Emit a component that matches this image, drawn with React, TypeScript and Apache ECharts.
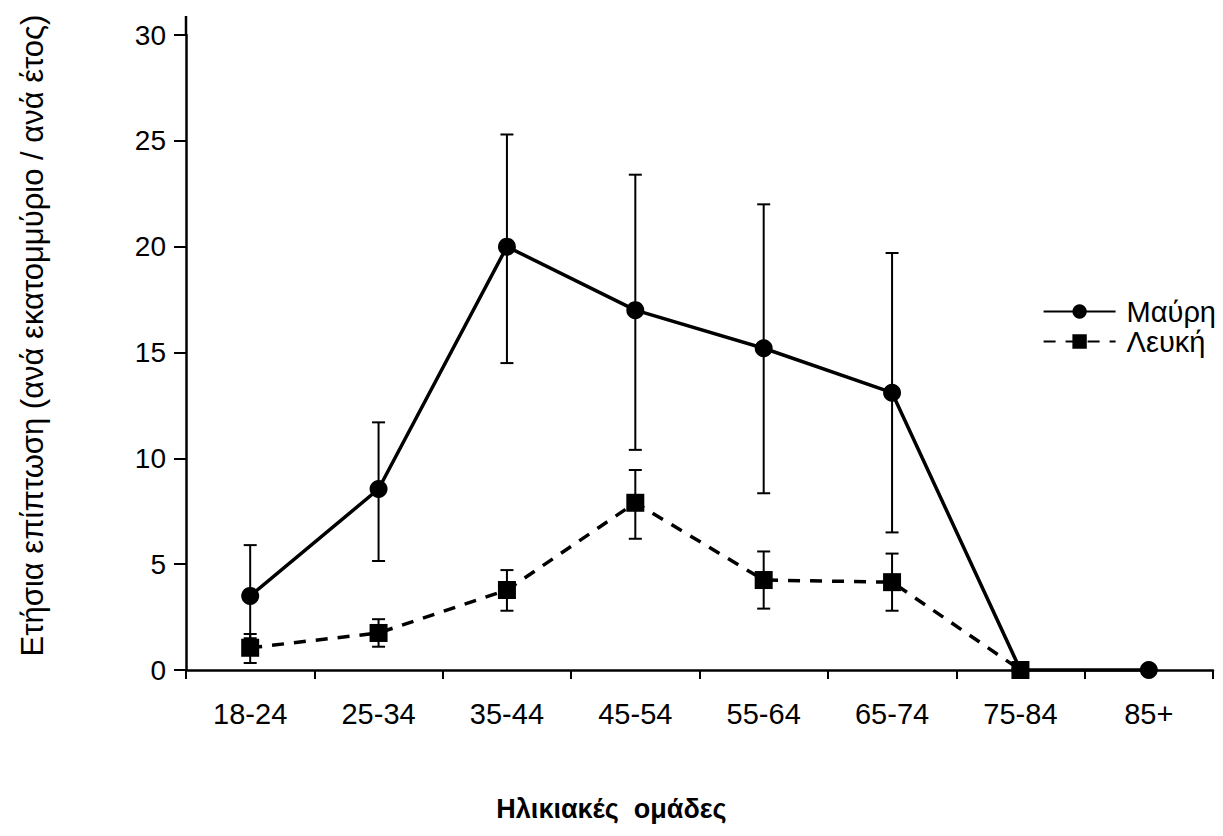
import React, { useEffect, useRef } from "react";
import * as echarts from "echarts";

const categories = ["18-24", "25-34", "35-44", "45-54", "55-64", "65-74", "75-84", "85+"];
const blackValues = [3.5, 8.55, 20.0, 17.0, 15.2, 13.1, 0, 0];
const blackLow = [1.5, 5.15, 14.5, 10.4, 8.35, 6.5, null, null];
const blackHigh = [5.9, 11.7, 25.3, 23.4, 22.0, 19.7, null, null];
const whiteValues = [1.05, 1.75, 3.78, 7.9, 4.25, 4.15, 0, null];
const whiteLow = [0.33, 1.1, 2.8, 6.2, 2.9, 2.8, null, null];
const whiteHigh = [1.7, 2.4, 4.72, 9.45, 5.6, 5.5, null, null];
const yTicks = [0, 5, 10, 15, 20, 25, 30];

const FONT = "'Liberation Sans', Arial, sans-serif";

function errData(low: (number | null)[], high: (number | null)[]) {
  const out: any[] = [];
  low.forEach((l, i) => {
    const h = high[i];
    if (l != null && h != null) out.push([i, l, h]);
  });
  return out;
}

function errRender(params: any, api: any) {
  const x = api.value(0);
  const lo = api.coord([x, api.value(1)]);
  const hi = api.coord([x, api.value(2)]);
  const cap = 6.5;
  const style = { stroke: "#000", lineWidth: 2 };
  return {
    type: "group",
    children: [
      { type: "line", shape: { x1: lo[0], y1: lo[1], x2: hi[0], y2: hi[1] }, style },
      { type: "line", shape: { x1: hi[0] - cap, y1: hi[1], x2: hi[0] + cap, y2: hi[1] }, style },
      { type: "line", shape: { x1: lo[0] - cap, y1: lo[1], x2: lo[0] + cap, y2: lo[1] }, style },
    ],
  };
}

export default function App() {
  const ref = useRef<HTMLDivElement>(null);
  useEffect(() => {
    if (!ref.current) return;
    const chart = echarts.init(ref.current, undefined, { renderer: "svg" });
    chart.setOption({
      animation: false,
      backgroundColor: "#fff",
      textStyle: { fontFamily: FONT, color: "#000" },
      grid: { left: 186, right: 10, top: 35, bottom: 166, containLabel: false },
      legend: {
        data: ["Μαύρη", "Λευκή"],
        orient: "vertical",
        right: 2,
        top: 292,
        itemWidth: 72,
        itemHeight: 18,
        itemGap: 1,
        textStyle: { fontFamily: FONT, fontSize: 29, color: "#000", lineHeight: 29, padding: [0, 0, 0, 6] },
      },
      xAxis: {
        type: "category",
        data: categories,
        boundaryGap: true,
        axisLine: { lineStyle: { color: "#000", width: 2.5 } },
        axisTick: { show: true, length: 9, lineStyle: { color: "#000", width: 2 } },
        axisLabel: { color: "#000", fontSize: 29, fontFamily: FONT, margin: 29 },
        name: "Ηλικιακές  ομάδες",
        nameLocation: "middle",
        nameGap: 125,
        nameTextStyle: {
          fontSize: 27,
          fontWeight: "bold",
          fontFamily: FONT,
          color: "#000",
          padding: [0, 176, 0, 0],
        },
      },
      yAxis: {
        type: "value",
        min: yTicks[0],
        max: yTicks[yTicks.length - 1],
        interval: 5,
        splitLine: { show: false },
        axisLine: { show: true, lineStyle: { color: "#000", width: 2.5 } },
        axisTick: { show: true, length: 12, lineStyle: { color: "#000", width: 2 } },
        axisLabel: { color: "#000", fontSize: 28, fontFamily: FONT, margin: 20 },
        name: "Ετήσια επίπτωση (ανά εκατομμύριο / ανά έτος)",
        nameLocation: "middle",
        nameGap: 138,
        nameRotate: 90,
        nameTextStyle: { fontSize: 31, fontFamily: FONT, color: "#000", padding: [0, 0, 0, 34] },
      },
      graphic: [
        { type: "line", shape: { x1: 186, y1: 16, x2: 186, y2: 36 }, style: { stroke: "#000", lineWidth: 2.5 } },
      ],
      series: [
        {
          name: "errBlack",
          type: "custom",
          renderItem: errRender,
          data: errData(blackLow, blackHigh),
          z: 1,
          silent: true,
        },
        {
          name: "errWhite",
          type: "custom",
          renderItem: errRender,
          data: errData(whiteLow, whiteHigh),
          z: 1,
          silent: true,
        },
        {
          name: "Μαύρη",
          type: "line",
          data: blackValues,
          symbol: "circle",
          symbolSize: 18,
          lineStyle: { color: "#000", width: 3.5 },
          itemStyle: { color: "#000" },
          z: 3,
        },
        {
          name: "Λευκή",
          type: "line",
          data: whiteValues,
          symbol: "rect",
          symbolSize: 18,
          lineStyle: { color: "#000", width: 3.5, type: [12, 10] },
          itemStyle: { color: "#000" },
          z: 4,
        },
      ],
    });
    return () => chart.dispose();
  }, []);
  return <div ref={ref} style={{ width: 1223, height: 836, margin: -8 }} />;
}
